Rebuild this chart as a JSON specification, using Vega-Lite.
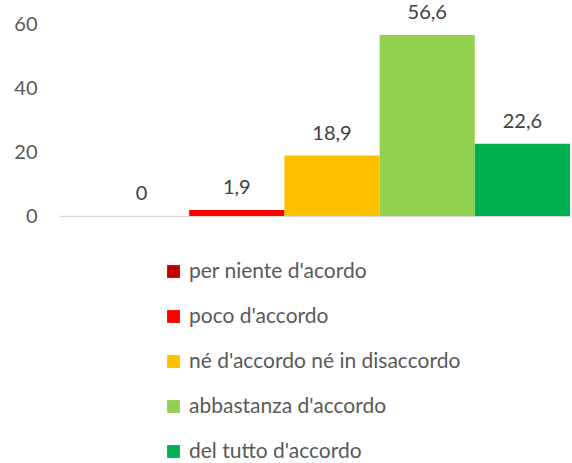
{
  "$schema": "https://vega.github.io/schema/vega-lite/v6.json",
  "autosize": {"type": "none"},
  "width": 511,
  "height": 192,
  "padding": {"left": 59, "top": 24, "right": 2, "bottom": 247},
  "background": "white",
  "config": {
    "view": {"stroke": null},
    "font": "Lato",
    "locale": {"number": {"decimal": ",", "thousands": ".", "grouping": [3], "currency": ["", " €"]}}
  },
  "data": {
    "values": [
      {"categoria": "per niente d'acordo", "valore": 0},
      {"categoria": "poco d'accordo", "valore": 1.9},
      {"categoria": "né d'accordo né in disaccordo", "valore": 18.9},
      {"categoria": "abbastanza d'accordo", "valore": 56.6},
      {"categoria": "del tutto d'accordo", "valore": 22.6}
    ]
  },
  "encoding": {
    "x": {
      "field": "categoria",
      "type": "nominal",
      "sort": null,
      "scale": {"paddingInner": 0, "paddingOuter": 0.184, "align": 1},
      "axis": {"labels": false, "ticks": false, "title": null, "domainColor": "#d9d9d9", "domainWidth": 1.5}
    },
    "y": {
      "field": "valore",
      "type": "quantitative",
      "scale": {"domain": [0, 60], "nice": false},
      "axis": {"values": [0, 20, 40, 60], "domain": false, "ticks": false, "grid": false, "title": null,
               "labelFontSize": 20, "labelColor": "#595959", "labelPadding": 22, "labelFont": "Lato"}
    }
  },
  "layer": [
    {
      "mark": {"type": "bar", "strokeWidth": 1},
      "encoding": {
        "color": {
          "field": "categoria",
          "type": "nominal",
          "sort": null,
          "scale": {
            "domain": ["per niente d'acordo", "poco d'accordo", "né d'accordo né in disaccordo", "abbastanza d'accordo", "del tutto d'accordo"],
            "range": ["#C00000", "#FF0000", "#FFC000", "#92D050", "#00B050"]
          },
          "legend": {
            "orient": "none",
            "legendX": 104,
            "legendY": 237,
            "title": null,
            "symbolType": "square",
            "symbolSize": 165,
            "symbolStrokeWidth": 0,
            "labelFontSize": 21,
            "labelColor": "#595959",
            "labelFont": "Lato",
            "rowPadding": 23,
            "labelOffset": 5,
            "labelLimit": 400
          }
        }
      }
    },
    {
      "mark": {"type": "text", "baseline": "middle", "dy": -22, "fontSize": 20, "color": "#404040", "font": "Lato"},
      "encoding": {
        "text": {"field": "valore", "type": "quantitative", "format": ".1~f"}
      }
    }
  ]
}
